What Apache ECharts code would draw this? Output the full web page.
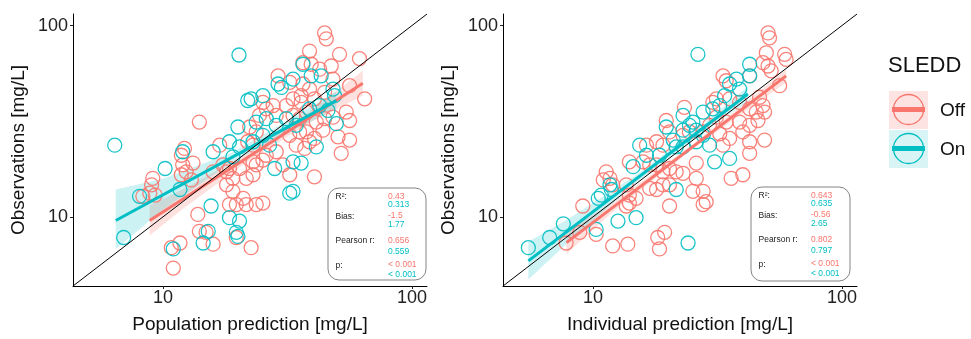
<!DOCTYPE html>
<html>
<head>
<meta charset="utf-8">
<script src="https://cdn.jsdelivr.net/npm/echarts@6/dist/echarts.min.js"></script>
<style>
  html, body { margin: 0; padding: 0; background: #fff; }
  #chart { width: 971px; height: 339px; }
</style>
</head>
<body>
<div id="chart"></div>
<script>
const RED = '#F8766D';
const TEAL = '#00BFC4';
const FONT = 'Liberation Sans, Arial, sans-serif';

const axisMin = 4.35;
const axisMax = 115;
const tickValues = [10, 100];
const groups = ['Off', 'On'];
const legendTitle = 'SLEDD';
const xTitles = ['Population prediction [mg/L]', 'Individual prediction [mg/L]'];
const yTitle = 'Observations [mg/L]';

// [prediction, observation] for SLEDD off / on, population prediction panel
const offPop = [
  [44.6, 91.6], [45.3, 85.3], [38.8, 73.6], [51.2, 70.8], [61.6, 67.2], [36.5, 64.0], [39.4, 62.8],
  [29.0, 54.6], [32.3, 50.5], [42.6, 59.2], [47.4, 61.5], [48.2, 52.5], [56.2, 48.5], [64.6, 41.4],
  [36.5, 49.5], [38.8, 46.6], [35.9, 43.0], [40.6, 41.4], [44.6, 44.8], [25.2, 39.7], [27.7, 38.2],
  [31.3, 38.2], [33.3, 41.4], [35.9, 39.7], [14.0, 31.3], [22.3, 29.5], [23.7, 27.8], [21.9, 24.7],
  [23.0, 23.7], [24.4, 33.9], [26.0, 36.7], [28.5, 33.9], [33.3, 33.9], [35.4, 32.6], [37.7, 35.3],
  [41.3, 31.3], [44.6, 32.6], [48.2, 33.2], [54.5, 35.3], [56.2, 31.9], [50.5, 26.2], [56.2, 25.2],
  [52.0, 21.5], [37.7, 27.8], [38.8, 24.7], [37.1, 22.8], [40.6, 25.7], [43.9, 28.4], [32.3, 26.7],
  [34.3, 23.7], [35.4, 27.8], [30.3, 18.7], [32.3, 16.6], [40.6, 16.2], [12.2, 22.8], [11.85, 21.0],
  [12.0, 18.7], [12.4, 17.2], [11.85, 16.6], [13.2, 19.1], [13.0, 15.6], [9.1, 15.9], [9.0, 14.7],
  [8.85, 13.3], [8.3, 12.8], [9.3, 13.0], [15.9, 17.2], [16.9, 23.7], [17.4, 18.7], [18.0, 17.2],
  [18.5, 17.9], [19.1, 15.9], [20.3, 17.9], [21.6, 15.9], [23.0, 16.6], [23.7, 18.7], [18.0, 14.7],
  [19.1, 13.6], [21.0, 12.5], [19.7, 11.6], [21.6, 11.6], [23.7, 11.6], [25.2, 11.8], [18.5, 11.6],
  [13.8, 10.3], [14.0, 8.4], [14.9, 8.3], [15.9, 7.2], [11.7, 7.3], [10.8, 6.9], [11.0, 5.4],
  [22.6, 6.9], [19.7, 7.8], [26.0, 21.0], [25.2, 19.8], [23.0, 19.4], [28.5, 21.9]
];
const onPop = [
  [6.4, 23.7], [6.95, 7.8], [20.2, 70.2], [8.05, 12.8], [10.2, 17.9], [12.0, 21.9], [11.7, 13.9],
  [15.9, 21.9], [18.5, 24.7], [20.0, 29.5], [21.9, 40.6], [22.6, 41.4], [25.2, 43.0], [29.0, 49.5],
  [29.9, 47.5], [33.3, 52.5], [36.5, 62.8], [39.4, 54.6], [43.2, 54.6], [48.2, 46.6], [49.7, 30.7],
  [23.7, 31.3], [26.0, 32.6], [28.5, 30.1], [31.3, 32.6], [34.3, 30.1], [25.2, 26.7], [26.8, 23.7],
  [23.0, 24.7], [20.3, 23.2], [19.1, 20.6], [28.1, 17.9], [33.3, 19.4], [35.9, 19.1], [41.3, 23.2],
  [33.3, 13.6], [32.3, 13.3], [15.6, 11.4], [18.5, 9.9], [20.3, 9.5], [19.7, 8.3], [20.0, 7.9],
  [15.2, 8.4], [14.5, 7.3], [11.0, 6.8], [38.8, 36.7], [42.6, 38.2], [46.0, 36.0], [48.9, 43.0]
];
// individual prediction panel
const offInd = [
  [50.5, 91.6], [51.2, 86.3], [49.7, 72.1], [58.9, 70.8], [59.7, 66.6], [48.2, 64.0], [50.5, 61.5],
  [52.0, 58.0], [33.3, 54.6], [34.3, 51.5], [42.6, 54.6], [56.2, 48.5], [30.3, 39.7], [31.3, 41.4],
  [35.4, 41.4], [38.8, 39.7], [46.7, 42.2], [48.2, 38.2], [45.3, 35.3], [42.6, 36.7], [48.9, 35.3],
  [23.3, 37.4], [31.3, 33.2], [34.3, 31.3], [38.8, 31.3], [42.6, 30.1], [46.0, 31.9], [19.7, 31.9],
  [20.3, 27.8], [23.0, 26.7], [24.4, 27.8], [27.7, 27.8], [29.4, 30.1], [32.3, 27.2], [33.3, 23.7],
  [35.4, 25.7], [40.0, 27.8], [42.6, 24.7], [48.9, 25.2], [42.6, 21.5], [16.4, 23.7], [18.0, 24.7],
  [19.1, 23.7], [14.0, 19.4], [15.9, 19.4], [16.9, 18.7], [18.0, 18.7], [19.1, 17.2], [20.3, 17.9],
  [21.6, 17.2], [23.0, 16.9], [26.0, 19.1], [11.3, 17.2], [11.0, 15.6], [11.7, 15.9], [12.0, 14.7],
  [13.6, 14.7], [14.0, 13.0], [14.9, 12.5], [16.9, 14.1], [18.0, 13.9], [19.1, 14.7], [20.3, 14.7],
  [26.0, 15.9], [27.7, 13.6], [28.5, 12.0], [27.7, 11.6], [25.2, 13.6], [35.9, 15.9], [40.0, 16.6],
  [9.1, 11.4], [8.85, 8.3], [7.8, 7.3], [10.3, 8.1], [13.6, 11.4], [14.0, 11.8], [20.3, 11.4],
  [12.0, 7.05], [13.8, 7.2], [18.2, 7.8], [19.4, 8.3], [18.5, 6.8]
];
const onInd = [
  [5.5, 6.9], [6.7, 7.8], [7.6, 9.2], [10.3, 8.6], [10.5, 12.5], [10.8, 13.0], [11.7, 14.7],
  [11.85, 13.9], [12.6, 9.5], [14.9, 9.9], [14.5, 18.3], [15.4, 23.7], [16.4, 21.0], [19.7, 29.5],
  [21.0, 25.2], [23.0, 28.4], [24.4, 30.1], [25.2, 31.3], [26.0, 28.4], [21.6, 23.2], [23.0, 23.2],
  [26.0, 24.7], [27.7, 26.7], [29.4, 23.7], [27.7, 35.3], [30.3, 36.7], [32.3, 38.2], [33.8, 43.0],
  [35.4, 49.5], [37.7, 52.5], [38.8, 46.6], [42.6, 62.8], [42.6, 54.6], [26.4, 70.8], [30.8, 19.4],
  [35.4, 20.2], [21.6, 13.9], [24.1, 7.3], [18.5, 21.0], [23.0, 33.9]
];

// fitted regression lines (end points) and confidence bands [x, lower, upper]
const offPopFit = [[8.84, 9.57], [63.5, 50.0]];
const onPopFit = [[6.46, 9.57], [49.7, 40.5]];
const offIndFit = [[7.82, 7.33], [59.7, 54.6]];
const onIndFit = [[5.5, 5.89], [41.9, 43.9]];

const offPopBand = [[8.84, 8.0, 11.5], [12, 11.0, 13.9], [22, 19.6, 21.6], [40, 31.7, 36.4], [63.5, 43.0, 58.0]];
const onPopBand = [[6.46, 6.8, 13.9], [10, 10.9, 15.8], [19.1, 19.5, 21.8], [35, 29.3, 34.4], [49.7, 36.5, 45.5]];
const offIndBand = [[7.82, 6.4, 8.4], [12, 10.6, 11.9], [25, 22.5, 23.8], [40, 34.9, 38.6], [59.7, 50.4, 59.2]];
const onIndBand = [[5.5, 4.7, 7.4], [8, 7.4, 9.8], [15, 15.2, 16.6], [28, 28.1, 30.8], [41.9, 40.0, 48.1]];

// statistics boxes
const statLabels = ['R²:', 'Bias:', 'Pearson r:', 'p:'];
const popStatsOff = ['0.43', '-1.5', '0.656', '< 0.001'];
const popStatsOn = ['0.313', '1.77', '0.559', '< 0.001'];
const indStatsOff = ['0.643', '-0.56', '0.802', '< 0.001'];
const indStatsOn = ['0.635', '2.65', '0.797', '< 0.001'];

const chart = echarts.init(document.getElementById('chart'));

const gridPos = [
  { left: 73, top: 14, width: 354, height: 275 },
  { left: 503, top: 14, width: 354, height: 275 }
];

function makeXAxis(i) {
  return {
    type: 'log', logBase: 10, gridIndex: i, min: axisMin, max: axisMax,
    name: xTitles[i], nameLocation: 'middle', nameGap: 29,
    nameTextStyle: { fontFamily: FONT, fontSize: 19, color: '#111' },
    axisLine: { onZero: false, lineStyle: { color: '#000', width: 1 } },
    axisTick: { customValues: tickValues, length: 3, lineStyle: { color: '#222' } },
    axisLabel: { customValues: tickValues, fontFamily: FONT, fontSize: 18, color: '#222', margin: 3 },
    splitLine: { show: false }
  };
}

function makeYAxis(i) {
  return {
    type: 'log', logBase: 10, gridIndex: i, min: axisMin, max: axisMax,
    name: yTitle, nameLocation: 'middle', nameGap: 45,
    nameTextStyle: { fontFamily: FONT, fontSize: 19, color: '#111' },
    axisLine: { onZero: false, lineStyle: { color: '#000', width: 1 } },
    axisTick: { customValues: tickValues, length: 3, lineStyle: { color: '#222' } },
    axisLabel: { customValues: tickValues, fontFamily: FONT, fontSize: 18, color: '#222', margin: 5 },
    splitLine: { show: false }
  };
}

function points(data, color, i) {
  return {
    type: 'scatter', xAxisIndex: i, yAxisIndex: i, data: data,
    symbol: 'circle', symbolSize: 14, silent: true,
    itemStyle: { color: 'rgba(0,0,0,0)', borderColor: color, borderWidth: 1.3, opacity: 0.9 }
  };
}

function band(data, fill, i) {
  return {
    type: 'custom', xAxisIndex: i, yAxisIndex: i, data: data,
    encode: { x: 0, y: [1, 2] }, silent: true,
    renderItem: function (params, api) {
      if (params.dataIndex !== 0) return null;
      const upper = data.map(d => api.coord([d[0], d[2]]));
      const lower = data.map(d => api.coord([d[0], d[1]])).reverse();
      return {
        type: 'polygon',
        shape: { points: upper.concat(lower) },
        style: { fill: fill }
      };
    }
  };
}

function fit(data, color, i) {
  return {
    type: 'line', xAxisIndex: i, yAxisIndex: i, data: data,
    symbol: 'none', silent: true,
    lineStyle: { color: color, width: 3 }
  };
}

function identity(i) {
  return {
    type: 'line', xAxisIndex: i, yAxisIndex: i,
    data: [[axisMin, axisMin], [axisMax, axisMax]],
    symbol: 'none', silent: true,
    lineStyle: { color: '#000', width: 1 }
  };
}

function statBox(x, y, w, h, offVals, onVals) {
  const labelY = [9, 28.5, 52.5, 78];
  const offY = [8.5, 28, 52.5, 77];
  const onY = [16.5, 37, 64, 87];
  const children = [{
    type: 'rect', shape: { x: 0, y: 0, width: w, height: h, r: 11 },
    style: { fill: '#fff', stroke: '#666', lineWidth: 0.8 }
  }];
  statLabels.forEach((t, k) => {
    children.push({ type: 'text', x: 7.5, y: labelY[k],
      style: { text: t, fill: '#222', font: '8.5px ' + FONT, verticalAlign: 'middle' } });
    children.push({ type: 'text', x: 60, y: offY[k],
      style: { text: offVals[k], fill: RED, font: '8.5px ' + FONT, verticalAlign: 'middle' } });
    children.push({ type: 'text', x: 60, y: onY[k],
      style: { text: onVals[k], fill: TEAL, font: '8.5px ' + FONT, verticalAlign: 'middle' } });
  });
  return { type: 'group', x: x, y: y, z: 100, children: children };
}

function legendKey(y, color, bg, label) {
  return {
    type: 'group', x: 889, y: y, children: [
      { type: 'rect', shape: { x: 0, y: 0, width: 39, height: 38 }, style: { fill: bg } },
      { type: 'circle', shape: { cx: 19.5, cy: 18.5, r: 15 }, style: { fill: 'none', stroke: color, lineWidth: 1.3 } },
      { type: 'line', shape: { x1: 3, y1: 18.5, x2: 36, y2: 18.5 }, style: { stroke: color, lineWidth: 5 } },
      { type: 'text', x: 51, y: 19.5, style: { text: label, fill: '#111', font: '19px ' + FONT, verticalAlign: 'middle' } }
    ]
  };
}

chart.setOption({
  animation: false,
  backgroundColor: '#fff',
  grid: gridPos,
  xAxis: [makeXAxis(0), makeXAxis(1)],
  yAxis: [makeYAxis(0), makeYAxis(1)],
  series: [
    points(offPop, RED, 0), points(onPop, TEAL, 0),
    band(offPopBand, 'rgba(248,118,109,0.22)', 0), band(onPopBand, 'rgba(0,191,196,0.2)', 0),
    fit(offPopFit, RED, 0), fit(onPopFit, TEAL, 0),
    identity(0),
    points(offInd, RED, 1), points(onInd, TEAL, 1),
    band(offIndBand, 'rgba(248,118,109,0.22)', 1), band(onIndBand, 'rgba(0,191,196,0.2)', 1),
    fit(offIndFit, RED, 1), fit(onIndFit, TEAL, 1),
    identity(1)
  ],
  graphic: [
    statBox(328, 188, 98, 92, popStatsOff, popStatsOn),
    statBox(751, 187, 99, 94, indStatsOff, indStatsOn),
    { type: 'text', x: 888, y: 66, style: { text: legendTitle, fill: '#111', font: '22px ' + FONT, verticalAlign: 'middle' } },
    legendKey(91, RED, '#FDE4E2', groups[0]),
    legendKey(130, TEAL, '#D9F4F4', groups[1])
  ]
});
</script>
</body>
</html>
